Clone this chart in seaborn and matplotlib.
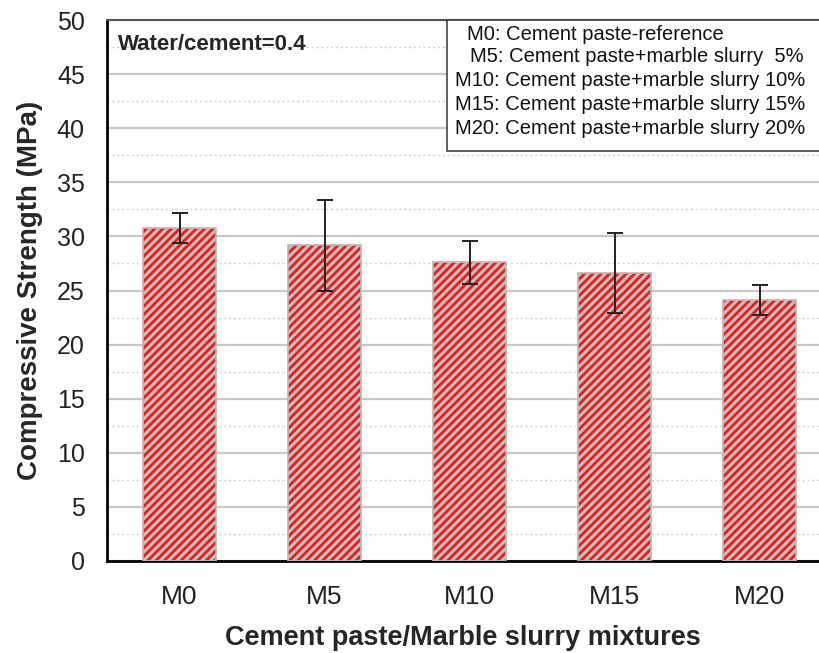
import matplotlib
matplotlib.use("Agg")
import matplotlib.pyplot as plt
from matplotlib.ticker import MultipleLocator
import seaborn as sns
import pandas as pd

mixtures = ["M0", "M5", "M10", "M15", "M20"]
strength = [30.8, 29.2, 27.6, 26.6, 24.1]
strength_err = [1.4, 4.2, 2.0, 3.7, 1.4]
legend_lines = [
    "M0: Cement paste-reference",
    "M5: Cement paste+marble slurry  5%",
    "M10: Cement paste+marble slurry 10%",
    "M15: Cement paste+marble slurry 15%",
    "M20: Cement paste+marble slurry 20%",
]

sns.set_style("white")
plt.rcParams["font.family"] = ["Liberation Sans", "DejaVu Sans"]
plt.rcParams["hatch.linewidth"] = 2.0

df = pd.DataFrame({"mix": mixtures, "strength": strength})

L, R, T, B = 107, 819, 20, 561
fig = plt.figure(figsize=(8.19, 6.53), dpi=100)
ax = fig.add_axes([L / 819, 1 - B / 653, (R - L) / 819, (B - T) / 653])

sns.barplot(data=df, x="mix", y="strength", ax=ax, color="#c0c0c0",
            width=0.5, errorbar=None, saturation=1, zorder=3)
# red diagonal hatch over a grey fill, with a thin grey outline
for p in list(ax.patches):
    p.set_hatch("////")
    p.set_edgecolor("#f01818")
    p.set_linewidth(0)
    ax.add_patch(plt.Rectangle(p.get_xy(), p.get_width(), p.get_height(),
                               fill=False, edgecolor="#b8b8b8", lw=1.2, zorder=3.5))

ax.errorbar(range(len(mixtures)), strength, yerr=strength_err, fmt="none",
            ecolor="#222222", elinewidth=1.4, capsize=6, capthick=1.4, zorder=4)

ax.set_xlim(-0.5, 4.41)
ax.set_ylim(0, 50)
ax.yaxis.set_major_locator(MultipleLocator(5))
ax.yaxis.set_minor_locator(MultipleLocator(2.5))
ax.set_xticks(range(len(mixtures)))
ax.set_xticks([0.5, 1.5, 2.5, 3.5], minor=True)
ax.set_xticklabels(mixtures)

ax.grid(True, which="major", axis="y", color="#c8c8c8", lw=1.6, zorder=0)
ax.grid(True, which="minor", axis="y", color="#d0d0d0", lw=1.0, ls=(0, (1.5, 2)), zorder=0)
ax.set_axisbelow(True)

for s in ["left", "bottom"]:
    ax.spines[s].set_color("black")
    ax.spines[s].set_linewidth(2.0)
ax.spines["top"].set_color("#555555")
ax.spines["top"].set_linewidth(1.5)
ax.spines["right"].set_visible(False)

ax.tick_params(axis="both", which="major", direction="out", length=10, width=2,
               labelsize=18, colors="black", labelcolor="#222222", pad=6)
ax.tick_params(axis="both", which="minor", direction="out", length=6, width=2,
               colors="black")
ax.tick_params(axis="x", labelsize=19, pad=7)

ax.set_xlabel("Cement paste/Marble slurry mixtures", fontsize=19.5,
              fontweight="bold", labelpad=12)
ax.set_ylabel("Compressive Strength (MPa)", fontsize=20,
              fontweight="bold", labelpad=10)

ax.text((118 - L) / (R - L), (B - 44) / (B - T), "Water/cement=0.4",
        transform=ax.transAxes, fontsize=16, fontweight="bold",
        va="center", ha="left", zorder=6)

# explanation box in the upper right corner
bx0 = (447 - L) / (R - L)
by0 = (B - 151) / (B - T)
ax.add_patch(plt.Rectangle((bx0, by0), 1.0 - bx0 + 0.01, 1.0 - by0,
                           transform=ax.transAxes, facecolor="white",
                           edgecolor="#444444", lw=1.2, zorder=5, clip_on=False))
line_x = [467, 470, 455, 455, 455]
line_y = [34, 57, 81, 105, 129]
for txt, lx, ly in zip(legend_lines, line_x, line_y):
    ax.text((lx - L) / (R - L), (B - ly) / (B - T), txt,
            transform=ax.transAxes, fontsize=14.5, va="center", ha="left",
            color="#111111", zorder=6)

fig.savefig("out.png", dpi=100)
